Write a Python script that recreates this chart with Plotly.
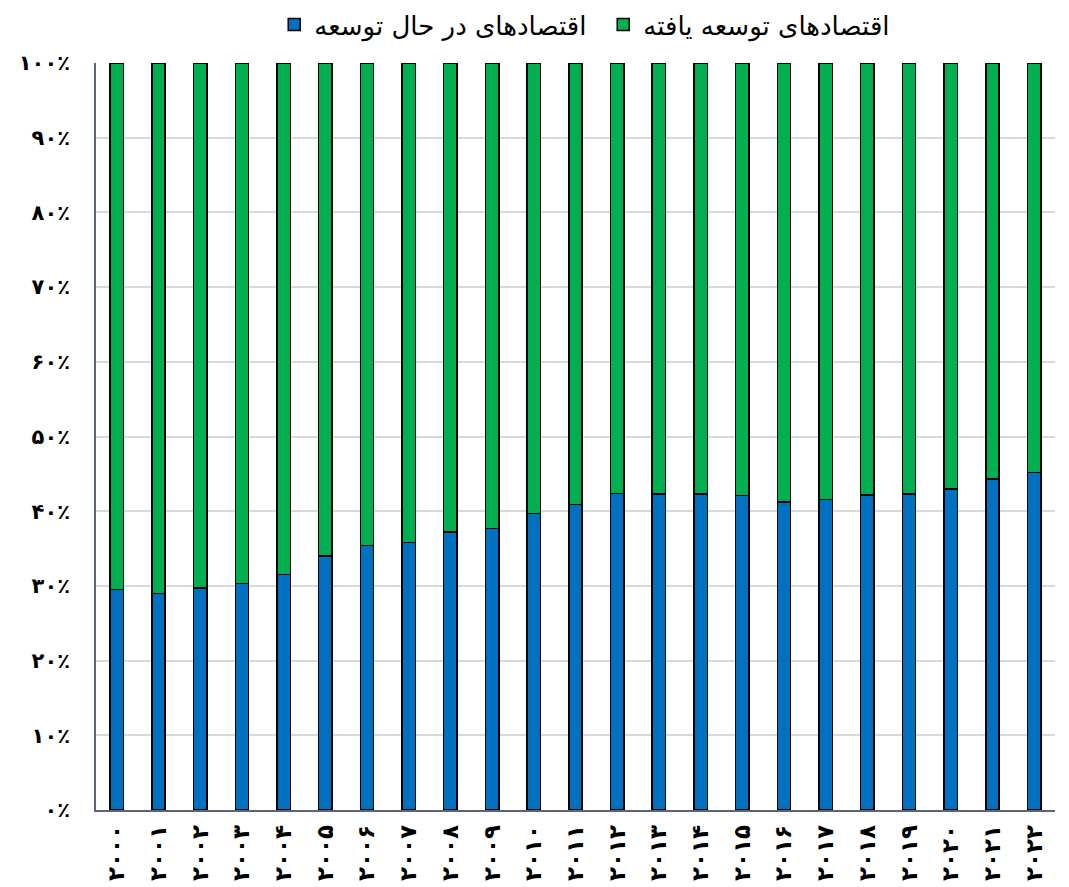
import plotly.graph_objects as go

years = ["۲۰۰۰", "۲۰۰۱", "۲۰۰۲", "۲۰۰۳", "۲۰۰۴", "۲۰۰۵", "۲۰۰۶", "۲۰۰۷", "۲۰۰۸", "۲۰۰۹",
         "۲۰۱۰", "۲۰۱۱", "۲۰۱۲", "۲۰۱۳", "۲۰۱۴", "۲۰۱۵", "۲۰۱۶", "۲۰۱۷", "۲۰۱۸", "۲۰۱۹",
         "۲۰۲۰", "۲۰۲۱", "۲۰۲۲"]
developing = [29.5, 29.0, 29.7, 30.3, 31.5, 34.0, 35.4, 35.8, 37.2, 37.7,
              39.7, 40.9, 42.4, 42.3, 42.3, 42.1, 41.2, 41.6, 42.2, 42.3,
              43.0, 44.3, 45.2]
developed = [70.5, 71.0, 70.3, 69.7, 68.5, 66.0, 64.6, 64.2, 62.8, 62.3,
             60.3, 59.1, 57.6, 57.7, 57.7, 57.9, 58.8, 58.4, 57.8, 57.7,
             57.0, 55.7, 54.8]
name_developing = "اقتصادهای در حال توسعه"
name_developed = "اقتصادهای توسعه یافته"
y_tickvals = [0, 10, 20, 30, 40, 50, 60, 70, 80, 90, 100]
y_ticktext = ["۰٪", "۱۰٪", "۲۰٪", "۳۰٪", "۴۰٪", "۵۰٪", "۶۰٪", "۷۰٪", "۸۰٪", "۹۰٪", "۱۰۰٪"]

FONT = "DejaVu Sans"

fig = go.Figure()
fig.add_trace(go.Bar(x=years, y=developing, name=name_developing,
                     marker=dict(color="#0070C0", line=dict(color="black", width=1.5)),
                     width=0.32))
fig.add_trace(go.Bar(x=years, y=developed, name=name_developed,
                     marker=dict(color="#00B050", line=dict(color="black", width=1.5)),
                     width=0.32))

# page body adds an 8px offset, so the figure is sized to fit the 1069x887 window
fig.update_layout(
    barmode="stack",
    width=1061, height=879,
    margin=dict(l=88, r=14, t=55, b=77, autoexpand=False),
    paper_bgcolor="white", plot_bgcolor="white",
    font=dict(family=FONT, color="black"),
    showlegend=True,
    legend=dict(orientation="h", xref="container", yref="container",
                x=0.561, xanchor="center", y=0.981, yanchor="middle",
                font=dict(size=26, family=FONT), traceorder="normal",
                itemwidth=30, entrywidth=284, entrywidthmode="pixels"),
)
fig.update_xaxes(type="category", tickangle=-90, showgrid=False, automargin=False,
                 showline=True, linecolor="#5B6478", linewidth=1.5,
                 tickfont=dict(size=23, family=FONT, weight="bold"), ticks="",
                 ticklabelstandoff=4)
fig.update_yaxes(range=[0, 100], tickvals=y_tickvals, ticktext=y_ticktext, automargin=False,
                 showgrid=True, gridcolor="#D9D9D9", gridwidth=1.5,
                 showline=True, linecolor="#5B6478", linewidth=1.5,
                 tickfont=dict(size=21, family=FONT, weight="bold"), ticks="",
                 ticklabelstandoff=20, zeroline=False)

fig.write_html("out.html")
